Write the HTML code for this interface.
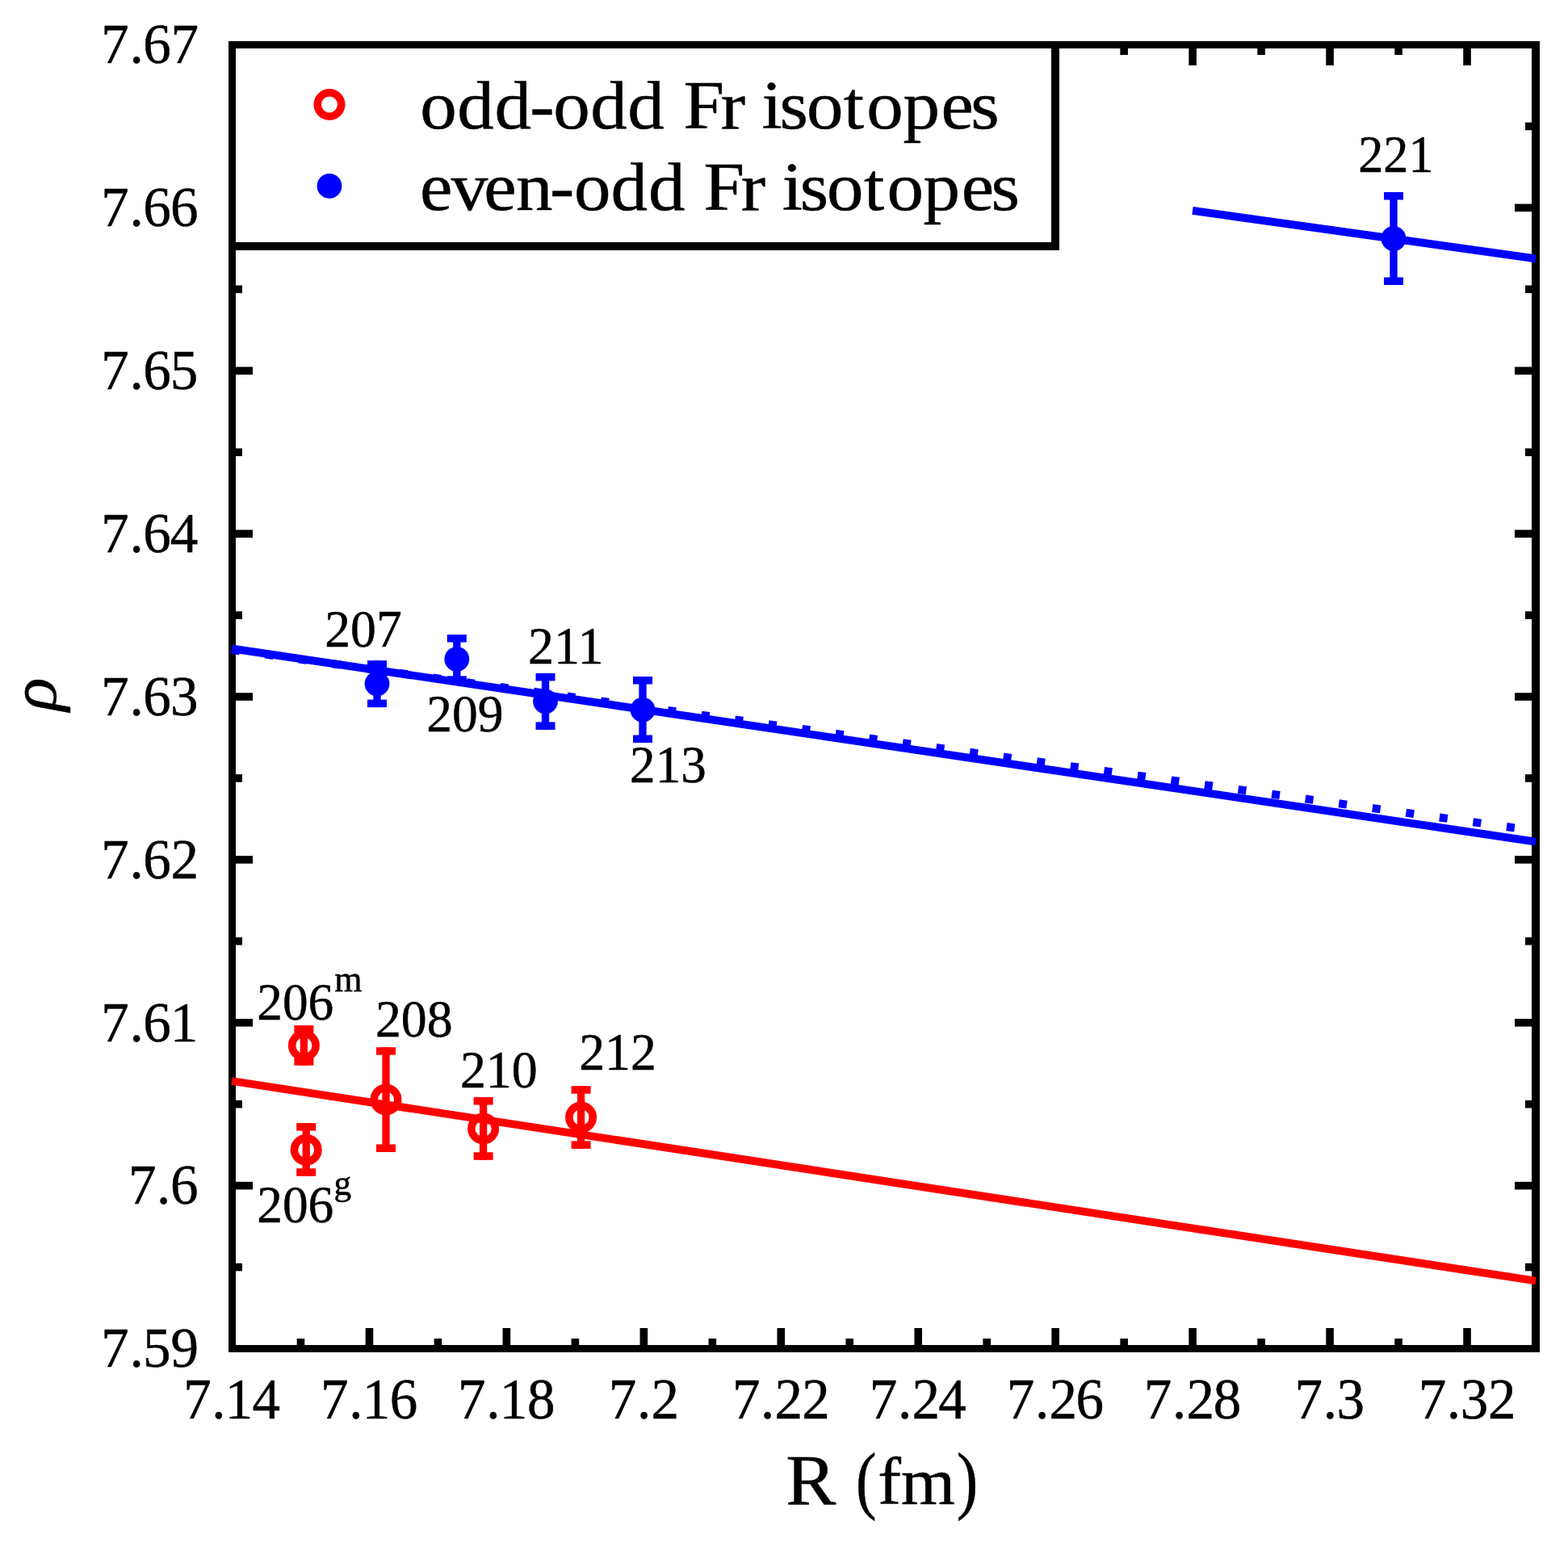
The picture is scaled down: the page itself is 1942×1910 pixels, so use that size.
<!DOCTYPE html>
<html lang="en">
<head>
<meta charset="utf-8">
<title>R (fm)</title>
<style>
html,body{margin:0;padding:0;background:#fff;}
body{width:1942px;height:1910px;overflow:hidden;}
svg{display:block;}
text{white-space:pre;}
</style>
</head>
<body>
<svg width="1942" height="1910" viewBox="0 0 1942 1910">
<rect width="1942" height="1910" fill="#fff"/>
<g id="ticks" fill="#000">
<rect x="367.67" y="1658" width="9.6" height="10"/>
<rect x="367.67" y="58" width="9.6" height="10"/>
<rect x="452.65" y="1645" width="9.6" height="23"/>
<rect x="452.65" y="58" width="9.6" height="23"/>
<rect x="537.62" y="1658" width="9.6" height="10"/>
<rect x="537.62" y="58" width="9.6" height="10"/>
<rect x="622.59" y="1645" width="9.6" height="23"/>
<rect x="622.59" y="58" width="9.6" height="23"/>
<rect x="707.57" y="1658" width="9.6" height="10"/>
<rect x="707.57" y="58" width="9.6" height="10"/>
<rect x="792.54" y="1645" width="9.6" height="23"/>
<rect x="792.54" y="58" width="9.6" height="23"/>
<rect x="877.52" y="1658" width="9.6" height="10"/>
<rect x="877.52" y="58" width="9.6" height="10"/>
<rect x="962.49" y="1645" width="9.6" height="23"/>
<rect x="962.49" y="58" width="9.6" height="23"/>
<rect x="1047.46" y="1658" width="9.6" height="10"/>
<rect x="1047.46" y="58" width="9.6" height="10"/>
<rect x="1132.44" y="1645" width="9.6" height="23"/>
<rect x="1132.44" y="58" width="9.6" height="23"/>
<rect x="1217.41" y="1658" width="9.6" height="10"/>
<rect x="1217.41" y="58" width="9.6" height="10"/>
<rect x="1302.38" y="1645" width="9.6" height="23"/>
<rect x="1302.38" y="58" width="9.6" height="23"/>
<rect x="1387.36" y="1658" width="9.6" height="10"/>
<rect x="1387.36" y="58" width="9.6" height="10"/>
<rect x="1472.33" y="1645" width="9.6" height="23"/>
<rect x="1472.33" y="58" width="9.6" height="23"/>
<rect x="1557.31" y="1658" width="9.6" height="10"/>
<rect x="1557.31" y="58" width="9.6" height="10"/>
<rect x="1642.28" y="1645" width="9.6" height="23"/>
<rect x="1642.28" y="58" width="9.6" height="23"/>
<rect x="1727.25" y="1658" width="9.6" height="10"/>
<rect x="1727.25" y="58" width="9.6" height="10"/>
<rect x="1812.23" y="1645" width="9.6" height="23"/>
<rect x="1812.23" y="58" width="9.6" height="23"/>
<rect x="290" y="151.64" width="10" height="9.6"/>
<rect x="1889" y="151.64" width="10" height="9.6"/>
<rect x="290" y="252.57" width="23" height="9.6"/>
<rect x="1876" y="252.57" width="23" height="9.6"/>
<rect x="290" y="353.51" width="10" height="9.6"/>
<rect x="1889" y="353.51" width="10" height="9.6"/>
<rect x="290" y="454.45" width="23" height="9.6"/>
<rect x="1876" y="454.45" width="23" height="9.6"/>
<rect x="290" y="555.39" width="10" height="9.6"/>
<rect x="1889" y="555.39" width="10" height="9.6"/>
<rect x="290" y="656.33" width="23" height="9.6"/>
<rect x="1876" y="656.33" width="23" height="9.6"/>
<rect x="290" y="757.26" width="10" height="9.6"/>
<rect x="1889" y="757.26" width="10" height="9.6"/>
<rect x="290" y="858.2" width="23" height="9.6"/>
<rect x="1876" y="858.2" width="23" height="9.6"/>
<rect x="290" y="959.14" width="10" height="9.6"/>
<rect x="1889" y="959.14" width="10" height="9.6"/>
<rect x="290" y="1060.07" width="23" height="9.6"/>
<rect x="1876" y="1060.07" width="23" height="9.6"/>
<rect x="290" y="1161.01" width="10" height="9.6"/>
<rect x="1889" y="1161.01" width="10" height="9.6"/>
<rect x="290" y="1261.95" width="23" height="9.6"/>
<rect x="1876" y="1261.95" width="23" height="9.6"/>
<rect x="290" y="1362.89" width="10" height="9.6"/>
<rect x="1889" y="1362.89" width="10" height="9.6"/>
<rect x="290" y="1463.83" width="23" height="9.6"/>
<rect x="1876" y="1463.83" width="23" height="9.6"/>
<rect x="290" y="1564.76" width="10" height="9.6"/>
<rect x="1889" y="1564.76" width="10" height="9.6"/>
</g>
<g id="frame" fill="#000">
<rect x="283" y="51" width="1029" height="259"/>
<rect x="292" y="60" width="1010" height="240" fill="#fff"/>
<rect x="283" y="51" width="9" height="1624"/>
<rect x="283" y="51" width="1624" height="9"/>
<rect x="1897" y="51" width="10" height="1624"/>
<rect x="283" y="1666" width="1624" height="9"/>
</g>
<g id="fits" fill="none">
<line x1="287" y1="804.9" x2="1902" y2="1029.06" stroke="#0000ff" stroke-width="10" stroke-dasharray="10 31.95"/>
<line x1="287" y1="803.4" x2="1902" y2="1042.6" stroke="#0000ff" stroke-width="9.8"/>
<line x1="1477" y1="260.9" x2="1902" y2="320.4" stroke="#0000ff" stroke-width="9.8"/>
<line x1="287" y1="1339" x2="1902" y2="1586.5" stroke="#ff0000" stroke-width="9.8"/>
</g>
<g id="even-odd" fill="#0000ff">
<rect x="462.35" y="818.15" width="9.3" height="57.95"/>
<rect x="455" y="818.15" width="24" height="9.5"/>
<rect x="455" y="866.6" width="24" height="9.5"/>
<circle cx="467" cy="846.8" r="15.4"/>
<rect x="561.15" y="786" width="9.3" height="60.8"/>
<rect x="553.8" y="786" width="24" height="9.5"/>
<rect x="553.8" y="837.3" width="24" height="9.5"/>
<circle cx="565.8" cy="816.4" r="15.4"/>
<rect x="670.85" y="833.9" width="9.3" height="70"/>
<rect x="663.5" y="833.9" width="24" height="9.5"/>
<rect x="663.5" y="894.4" width="24" height="9.5"/>
<circle cx="675.5" cy="868.8" r="15.4"/>
<rect x="791.35" y="838" width="9.3" height="82"/>
<rect x="784" y="838" width="24" height="9.5"/>
<rect x="784" y="910.5" width="24" height="9.5"/>
<circle cx="796" cy="879.2" r="15.4"/>
<rect x="1721.35" y="238" width="9.3" height="115"/>
<rect x="1714" y="238" width="24" height="9.5"/>
<rect x="1714" y="343.5" width="24" height="9.5"/>
<circle cx="1726" cy="295.5" r="15.4"/>
<circle cx="408" cy="230.4" r="15.4"/>
</g>
<g id="odd-odd" fill="#ff0000" stroke="none">
<rect x="371.75" y="1270.1" width="9.3" height="49.6"/>
<rect x="364.4" y="1270.1" width="24" height="9.5"/>
<rect x="364.4" y="1310.2" width="24" height="9.5"/>
<circle cx="376.4" cy="1295" r="14.75" fill="none" stroke="#ff0000" stroke-width="9.5"/>
<rect x="374.55" y="1391.1" width="9.3" height="65.7"/>
<rect x="367.2" y="1391.1" width="24" height="9.5"/>
<rect x="367.2" y="1447.3" width="24" height="9.5"/>
<circle cx="379.2" cy="1424.3" r="14.75" fill="none" stroke="#ff0000" stroke-width="9.5"/>
<rect x="473.35" y="1297.2" width="9.3" height="129.8"/>
<rect x="466" y="1297.2" width="24" height="9.5"/>
<rect x="466" y="1417.5" width="24" height="9.5"/>
<circle cx="478" cy="1362" r="14.75" fill="none" stroke="#ff0000" stroke-width="9.5"/>
<rect x="593.95" y="1359" width="9.3" height="77.8"/>
<rect x="586.6" y="1359" width="24" height="9.5"/>
<rect x="586.6" y="1427.3" width="24" height="9.5"/>
<circle cx="598.6" cy="1398" r="14.75" fill="none" stroke="#ff0000" stroke-width="9.5"/>
<rect x="714.95" y="1345.2" width="9.3" height="77.7"/>
<rect x="707.6" y="1345.2" width="24" height="9.5"/>
<rect x="707.6" y="1413.4" width="24" height="9.5"/>
<circle cx="719.6" cy="1384" r="14.75" fill="none" stroke="#ff0000" stroke-width="9.5"/>
<circle cx="408" cy="129.5" r="14.75" fill="none" stroke="#ff0000" stroke-width="9.5"/>
</g>
<g id="labels" font-family="'Liberation Serif', 'Times New Roman', serif" font-size="100" fill="#000" stroke="#000" stroke-linejoin="round">
<text transform="matrix(0.9100 0 0 0.8460 0 159.10)" x="571.7 622.2 673.0 721.2 753.1 803.5 854.1 904.1 930.2 981.0 1014.3 1036.9 1061.1 1097.7 1148.2 1179.5 1229.0 1280.9 1321.3" stroke-width="0.57">odd-odd Fr isotopes</text>
<text transform="matrix(0.9100 0 0 0.8460 0 260.10)" x="571.4 614.1 658.5 702.3 748.5 781.3 831.3 882.4 932.4 957.8 1008.6 1041.9 1064.5 1088.7 1125.3 1175.8 1207.1 1256.6 1308.5 1348.8" stroke-width="0.57">even-odd Fr isotopes</text>
<text transform="matrix(0.6900 0 0 0.7040 0 78.34)" x="181.6 232.6 257.0 306.5" stroke-width="0.72">7.67</text>
<text transform="matrix(0.6900 0 0 0.7040 0 280.22)" x="181.6 232.6 257.0 305.8" stroke-width="0.72">7.66</text>
<text transform="matrix(0.6900 0 0 0.7040 0 482.09)" x="181.6 232.6 257.0 305.4" stroke-width="0.72">7.65</text>
<text transform="matrix(0.6900 0 0 0.7040 0 683.97)" x="181.6 232.6 257.0 305.4" stroke-width="0.72">7.64</text>
<text transform="matrix(0.6900 0 0 0.7040 0 885.84)" x="181.6 232.6 257.0 305.9" stroke-width="0.72">7.63</text>
<text transform="matrix(0.6900 0 0 0.7040 0 1087.72)" x="181.6 232.6 257.0 306.7" stroke-width="0.72">7.62</text>
<text transform="matrix(0.6900 0 0 0.7040 0 1289.59)" x="181.6 232.6 257.0 305.3" stroke-width="0.72">7.61</text>
<text transform="matrix(0.6900 0 0 0.7040 0 1491.47)" x="230.4 281.3 305.8" stroke-width="0.72">7.6</text>
<text transform="matrix(0.6900 0 0 0.7040 0 1693.34)" x="181.6 232.6 256.6 306.6" stroke-width="0.72">7.59</text>
<text transform="matrix(0.6900 0 0 0.7230 0 1757.12)" x="329.2 380.1 404.1 453.0" stroke-width="0.71">7.14</text>
<text transform="matrix(0.6900 0 0 0.7230 0 1757.12)" x="575.5 626.4 650.4 699.6" stroke-width="0.71">7.16</text>
<text transform="matrix(0.6900 0 0 0.7230 0 1757.12)" x="821.8 872.7 896.7 946.4" stroke-width="0.71">7.18</text>
<text transform="matrix(0.6900 0 0 0.7230 0 1757.12)" x="1092.4 1143.4 1168.8" stroke-width="0.71">7.2</text>
<text transform="matrix(0.6900 0 0 0.7230 0 1757.12)" x="1314.4 1365.3 1390.7 1439.5" stroke-width="0.71">7.22</text>
<text transform="matrix(0.6900 0 0 0.7230 0 1757.12)" x="1560.7 1611.6 1637.0 1684.5" stroke-width="0.71">7.24</text>
<text transform="matrix(0.6900 0 0 0.7230 0 1757.12)" x="1807.0 1857.9 1883.3 1931.1" stroke-width="0.71">7.26</text>
<text transform="matrix(0.6900 0 0 0.7230 0 1757.12)" x="2053.3 2104.2 2129.6 2177.9" stroke-width="0.71">7.28</text>
<text transform="matrix(0.6900 0 0 0.7230 0 1757.12)" x="2323.9 2374.9 2399.4" stroke-width="0.71">7.3</text>
<text transform="matrix(0.6900 0 0 0.7230 0 1757.12)" x="2545.9 2596.8 2621.4 2671.0" stroke-width="0.71">7.32</text>
<text transform="matrix(0.6222 0 0 0.6460 1682.25 212.95)" stroke-width="0.79">221</text>
<text transform="matrix(0.6365 0 0 0.6637 402.29 801.19)" stroke-width="0.77">207</text>
<text transform="matrix(0.6353 0 0 0.6459 528.29 906.10)" stroke-width="0.78">209</text>
<text transform="matrix(0.6401 0 0 0.6460 653.97 821.95)" stroke-width="0.78">211</text>
<text transform="matrix(0.6304 0 0 0.6483 780.11 969.20)" stroke-width="0.78">213</text>
<text transform="matrix(0.6326 0 0 0.6578 318.36 1262.89)" stroke-width="0.77">206<tspan x="151.7" y="-53.1" font-size="69.6">m</tspan></text>
<text transform="matrix(0.6377 0 0 0.6593 464.88 1284.09)" stroke-width="0.77">208</text>
<text transform="matrix(0.6384 0 0 0.6459 569.88 1346.90)" stroke-width="0.78">210</text>
<text transform="matrix(0.6379 0 0 0.6491 717.18 1325.25)" stroke-width="0.78">212</text>
<text transform="matrix(0.6330 0 0 0.6504 318.30 1514.10)" stroke-width="0.78">206<tspan x="150.4" y="-53.0" font-size="68.4">g</tspan></text>
<text stroke-width="0.5"><tspan x="973.16" y="1862.90" font-size="88.5" textLength="62.08" lengthAdjust="spacingAndGlyphs">R</tspan> <tspan x="1059.91" y="1863.80" font-size="93.5" textLength="25.47" lengthAdjust="spacingAndGlyphs">(</tspan><tspan x="1087.36" y="1862.90" font-size="83.5" textLength="95.86" lengthAdjust="spacingAndGlyphs">fm</tspan><tspan x="1184.86" y="1863.80" font-size="93.5" textLength="26.51" lengthAdjust="spacingAndGlyphs">)</tspan></text>
<text transform="translate(68.76 880.75) rotate(-90) scale(0.8589 0.8161)" font-style="italic" stroke-width="0.60">ρ</text>
</g>
</svg>
</body>
</html>
